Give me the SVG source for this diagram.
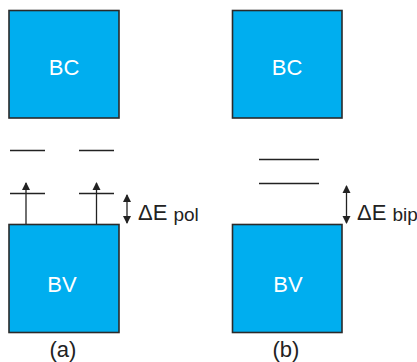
<svg xmlns="http://www.w3.org/2000/svg" width="417" height="362" viewBox="0 0 417 362">
<style>
.box{fill:#00AEEF;stroke:#2a2a2a;stroke-width:1.6}
.lbl{fill:#fff;font-family:"Liberation Sans",Arial,sans-serif;font-size:22px;text-anchor:middle}
.t{fill:#222;font-family:"Liberation Sans",Arial,sans-serif;font-size:22px}
.s{font-size:19px}
.lv{stroke:#222;stroke-width:1.3}
.ar{stroke:#222;stroke-width:1.3;fill:none}
</style>
<defs>
<marker id="ah" viewBox="0 0 8 10" refX="7" refY="5" markerWidth="8" markerHeight="10" markerUnits="userSpaceOnUse" orient="auto-start-reverse">
<path d="M0,1 L8,5 L0,9 Z" fill="#222"/>
</marker>
</defs>
<g id="bc-a"><rect class="box" x="9" y="10.5" width="110" height="107.5"/><text class="lbl" x="64" y="75">BC</text></g>
<g id="bv-a"><rect class="box" x="9" y="224.5" width="110" height="108"/><text class="lbl" x="62" y="292">BV</text></g>
<g id="bc-b"><rect class="box" x="232.5" y="10.5" width="109.5" height="107.5"/><text class="lbl" x="287" y="75">BC</text></g>
<g id="bv-b"><rect class="box" x="232.5" y="224.5" width="109.5" height="108"/><text class="lbl" x="288" y="292">BV</text></g>
<g id="levels">
<line class="lv" x1="10" y1="150.5" x2="45" y2="150.5"/>
<line class="lv" x1="79" y1="150.5" x2="114" y2="150.5"/>
<line class="lv" x1="10" y1="193.5" x2="45" y2="193.5"/>
<line class="lv" x1="79" y1="193.5" x2="114" y2="193.5"/>
<line class="lv" x1="259" y1="159.5" x2="319" y2="159.5"/>
<line class="lv" x1="259" y1="183.5" x2="319" y2="183.5"/>
</g>
<g id="connectors">
<line class="ar" x1="26" y1="224" x2="26" y2="183" marker-end="url(#ah)"/>
<line class="ar" x1="96.5" y1="224" x2="96.5" y2="183" marker-end="url(#ah)"/>
<line class="ar" x1="127" y1="195" x2="127" y2="223" marker-start="url(#ah)" marker-end="url(#ah)"/>
<line class="ar" x1="346.5" y1="186" x2="346.5" y2="223" marker-start="url(#ah)" marker-end="url(#ah)"/>
</g>
<g id="labels">
<text class="t" x="138" y="220">ΔE <tspan class="s" dy="1">pol</tspan></text>
<text class="t" x="357" y="220">ΔE <tspan class="s" dy="1">bip</tspan></text>
<text class="t" x="63" y="357" text-anchor="middle">(a)</text>
<text class="t" x="286" y="357" text-anchor="middle">(b)</text>
</g>
</svg>
